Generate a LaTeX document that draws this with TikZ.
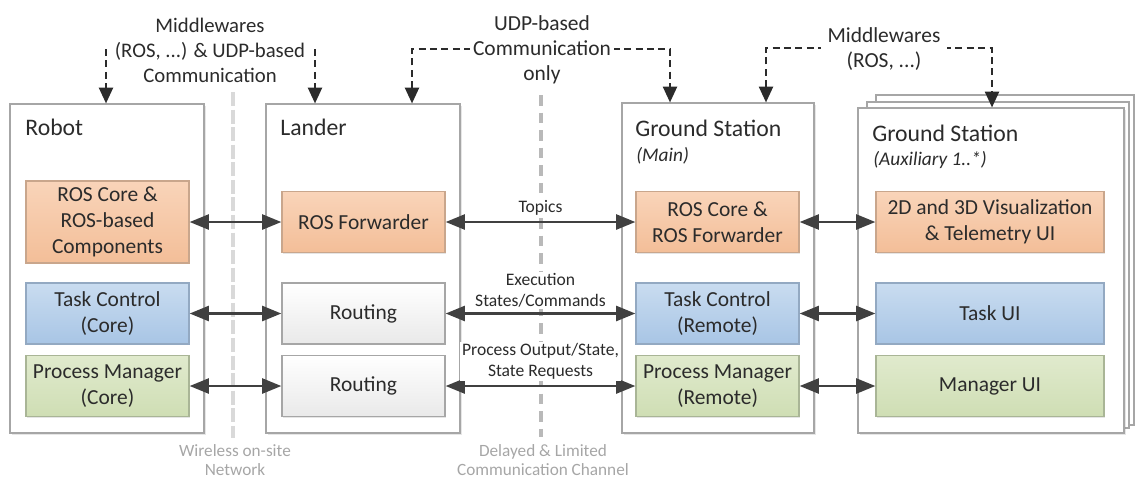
\documentclass[tikz,border=0pt]{standalone}
\usepackage{fontspec}
\setmainfont{Carlito}
\usetikzlibrary{arrows.meta}
\usetikzlibrary{shadows}
\usetikzlibrary{positioning}

\definecolor{txt}{HTML}{2B2B2B}
\definecolor{arr}{HTML}{404040}
\definecolor{framegray}{HTML}{A6A6A6}
\definecolor{orangetop}{HTML}{F9D4B9}
\definecolor{orangebot}{HTML}{F3BE98}
\definecolor{orangeline}{HTML}{C9A68C}
\definecolor{bluetop}{HTML}{C9DCF0}
\definecolor{bluebot}{HTML}{A8C5E5}
\definecolor{blueline}{HTML}{93A9C2}
\definecolor{greentop}{HTML}{E0EACD}
\definecolor{greenbot}{HTML}{CFDEB4}
\definecolor{greenline}{HTML}{A9B596}
\definecolor{routebot}{HTML}{E9E9E9}

\tikzset{
  bigtip/.tip={Triangle[length=11pt,width=8.5pt]},
  mwtip/.tip={Triangle[length=9pt,width=8pt]},
  unitbox/.style={draw=framegray, fill=white, line width=0.7pt,
    drop shadow={shadow xshift=1pt, shadow yshift=-1pt, opacity=0.2}},
  title/.style={anchor=west, inner sep=0pt, text=txt, font=\fontsize{13.5}{16}\selectfont},
  subtitle/.style={anchor=west, inner sep=0pt, text=txt, font=\fontsize{11}{13}\selectfont\itshape},
  comp/.style={draw=#1, line width=0.7pt, minimum width=3.26cm, minimum height=1.22cm,
    inner sep=2pt, align=center, text=txt, font=\fontsize{12.2}{14.7}\selectfont,
    drop shadow={shadow xshift=0.8pt, shadow yshift=-0.8pt, opacity=0.2}},
  rosbox/.style={comp=orangeline, top color=orangetop, bottom color=orangebot},
  taskbox/.style={comp=blueline, top color=bluetop, bottom color=bluebot},
  mgrbox/.style={comp=greenline, top color=greentop, bottom color=greenbot},
  routebox/.style={comp=framegray, top color=white, bottom color=routebot},
  link/.style={draw=arr, line width=1.6pt, bigtip-bigtip},
  linklabel/.style={above=2pt, inner sep=1pt, fill=white, align=center, text=txt,
    font=\fontsize{10}{11.7}\selectfont},
  mw/.style={draw=txt, line width=1.2pt, dash pattern=on 4pt off 2.5pt},
  mwlabel/.style={fill=white, inner sep=2pt, align=center, text=txt,
    font=\fontsize{12.2}{14.2}\selectfont},
  netlabel/.style={align=center, text=gray!70, font=\fontsize{9.8}{11.3}\selectfont},
}

\begin{document}
\begin{tikzpicture}[x=0.02cm,y=-0.02cm]
\useasboundingbox (0,0) rectangle (1135,478);

% network borders
\draw[gray!30, line width=2.2pt, dash pattern=on 8pt off 2pt] (233,92) -- (233,438);
\draw[gray!55, line width=2.2pt, dash pattern=on 6pt off 4pt] (541,95) -- (541,437);
\node[netlabel] (wlan) at (235,460) {Wireless on-site\\Network};
\node[netlabel] (channel) at (543,460) {Delayed \& Limited\\Communication Channel};

% units
\draw[draw=framegray, fill=white, line width=0.7pt] (876,95) rectangle (1134,425);
\draw[draw=framegray, fill=white, line width=0.7pt] (867,102) rectangle (1129,428);
\node[unitbox, minimum width=3.88cm, minimum height=6.58cm] (robot) at (107,268.5) {};
\node[unitbox, minimum width=3.88cm, minimum height=6.58cm] (lander) at (363,268.5) {};
\node[unitbox, minimum width=3.84cm, minimum height=6.6cm] (gsmain) at (718,268) {};
\node[unitbox, minimum width=5.32cm, minimum height=6.5cm] (gsaux) at (991,270.5) {};

\node[title] at (25,127) {Robot};
\node[title] at (280,127) {Lander};
\node[title] at (635,128) {Ground Station};
\node[subtitle] at (636,156) {(Main)};
\node[title] at (872,133) {Ground Station};
\node[subtitle] at (873,160) {(Auxiliary 1..*)};

% components
\node[rosbox, minimum height=1.64cm] (rosrobot) at (107.5,222) {ROS Core \&\\ROS-based\\Components};
\node[taskbox] (taskrobot) at (107.5,313.5) {Task Control\\(Core)};
\node[mgrbox] (mgrrobot) at (107.5,386) {Process Manager\\(Core)};

\node[rosbox] (fwdlander) at (363.5,222) {ROS Forwarder};
\node[routebox] (routetask) at (363.5,313.5) {Routing};
\node[routebox] (routemgr) at (363.5,386) {Routing};

\node[rosbox] (rosmain) at (717.5,222) {ROS Core \&\\ROS Forwarder};
\node[taskbox] (taskmain) at (717.5,313.5) {Task Control\\(Remote)};
\node[mgrbox] (mgrmain) at (717.5,386) {Process Manager\\(Remote)};

\node[rosbox, minimum width=4.56cm] (visaux) at (990,222) {2D and 3D Visualization\\\& Telemetry UI};
\node[taskbox, minimum width=4.56cm] (taskaux) at (990,313.5) {Task UI};
\node[mgrbox, minimum width=4.56cm] (mgraux) at (990,386) {Manager UI};

% links
\foreach \a/\b in {rosrobot/fwdlander, taskrobot/routetask, mgrrobot/routemgr,
                   rosmain/visaux, taskmain/taskaux, mgrmain/mgraux} {
  \draw[link] (\a.east) -- (\b.west);
}
\draw[link] (fwdlander.east) -- node[linklabel] {Topics} (rosmain.west);
\draw[link] (routetask.east) -- node[linklabel] {Execution\\States/Commands} (taskmain.west);
\draw[link] (routemgr.east) -- node[linklabel] {Process Output/State,\\State Requests} (mgrmain.west);

% middlewares
\coordinate (m1) at (106,49);
\coordinate (m2) at (315,49);
\draw[mw, -mwtip] (m1) -- (robot.north -| m1);
\draw[mw, -mwtip] (m2) -- (lander.north -| m2);
\node[mwlabel, fill=none, font=\fontsize{11.8}{14.2}\selectfont] (mwboth) at (210,50) {Middlewares\\(ROS, ...) \& UDP-based\\Communication};

\coordinate (u1) at (412,49);
\coordinate (u2) at (670,49);
\draw[mw, mwtip-mwtip] (lander.north -| u1) -- (u1) -- (u2) -- (gsmain.north -| u2);
\node[mwlabel] (udp) at (542,50) {UDP-based\\Communication\\only};

\coordinate (r1) at (766,48);
\coordinate (r2) at (992,48);
\draw[mw, mwtip-mwtip] (gsmain.north -| r1) -- (r1) -- (r2) -- (gsaux.north -| r2);
\node[mwlabel, inner xsep=4pt] (ros) at (884,49) {Middlewares\\(ROS, ...)};
\end{tikzpicture}
\end{document}
